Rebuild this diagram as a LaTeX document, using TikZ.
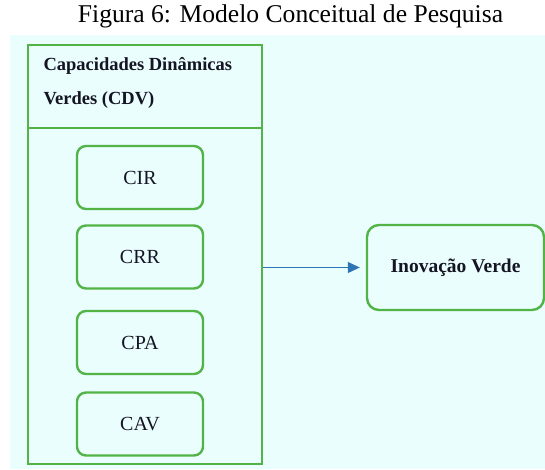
\documentclass[tikz,border=0pt]{standalone}
\usepackage{fontspec}
\setmainfont{Liberation Serif}
\usepackage{tikz}
\usetikzlibrary{arrows.meta,positioning}

\definecolor{fundo}{RGB}{234,254,254}
\definecolor{verdeborda}{RGB}{82,180,70}
\definecolor{azulseta}{RGB}{46,117,182}
\definecolor{textoescuro}{RGB}{20,20,35}

\begin{document}
\begin{tikzpicture}[x=1pt,y=-1pt]
      \useasboundingbox (0,0) rectangle (545,469);
      \fill[fundo] (10,35) rectangle (545,469);
      \node (titulo) at (290.5,16) {\fontsize{25.6}{28}\selectfont Figura 6: Modelo Conceitual de Pesquisa};
      \begin{scope}[every node/.style={draw=verdeborda,line width=2.4pt,text=textoescuro}]
        \node[minimum width=234pt,minimum height=419pt] (cdv) at (145,254.5) {};
        \node[rounded corners=9pt,minimum width=126pt,minimum height=63pt,font=\fontsize{20}{22}\selectfont] (cir) at (140,177.5) {CIR};
        \node[rounded corners=9pt,minimum width=126pt,minimum height=63pt,font=\fontsize{20}{22}\selectfont] (crr) at (140,257) {CRR};
        \node[rounded corners=9pt,minimum width=126pt,minimum height=63pt,font=\fontsize{20}{22}\selectfont] (cpa) at (140,342.5) {CPA};
        \node[rounded corners=9pt,minimum width=126pt,minimum height=63pt,font=\fontsize{20}{22}\selectfont] (cav) at (140,424) {CAV};
        \node[rounded corners=12pt,minimum width=177pt,minimum height=85pt,font=\bfseries\fontsize{19.5}{22}\selectfont] (inov) at (455.5,267.5) {\raisebox{2pt}{Inovação Verde}};
      \end{scope}
      \node[anchor=west,align=left,text=textoescuro,font=\bfseries\fontsize{18.5}{34}\selectfont] (cabecalho) at (40,83) {Capacidades Dinâmicas\\Verdes (CDV)};
      \coordinate (divesq) at (28,128);
      \coordinate (divdir) at (262,128);
      \draw[verdeborda,line width=2.4pt] (divesq) -- (divdir);
      \begin{scope}[>={Triangle[azulseta,length=12pt,width=11pt]}]
        \draw[->,azulseta,line width=1pt,shorten >=6pt] (cdv.east |- inov.west) -- (inov.west);
      \end{scope}
    \end{tikzpicture}
\end{document}
